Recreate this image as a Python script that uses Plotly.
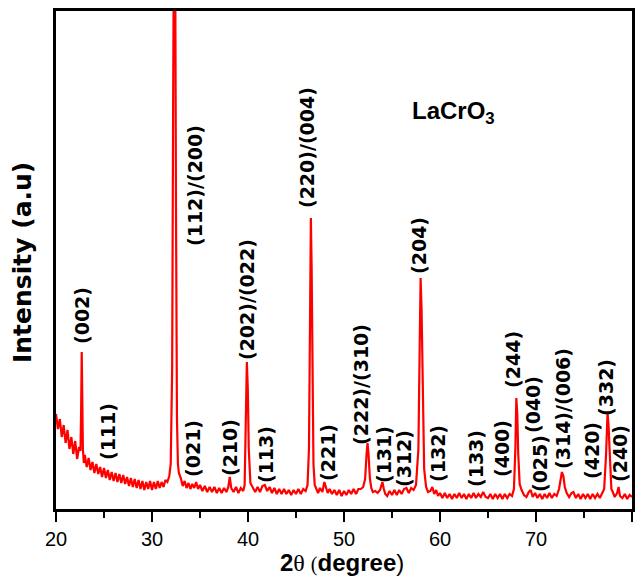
import plotly.graph_objects as go

# ---- data (2theta in degrees, intensity in a.u.) ----
bg_theta = [20.0, 20.2, 20.4, 20.6, 20.8, 21.0, 21.2, 21.4, 21.6, 21.8, 22.0, 22.2, 22.4,
            23.0, 23.2, 23.4, 23.6, 23.8, 24.0, 24.2, 24.4, 24.6, 24.8, 25.0, 25.2, 25.4,
            25.6, 25.8, 26.0, 26.2, 26.4, 26.6, 26.8, 27.0, 27.2, 27.4, 27.6, 27.8, 28.0,
            28.2, 28.4, 28.6, 28.8, 29.0, 29.2, 29.4, 29.6, 29.8, 30.0, 30.2, 30.4, 30.6,
            30.8, 31.0, 31.2, 31.4, 31.6,
            33.0, 33.2, 33.4, 33.6, 33.8, 34.0, 34.2, 34.4, 34.6, 34.8, 35.0, 35.25, 35.5,
            35.75, 36.0, 36.25, 36.5, 36.75, 37.0, 37.25, 37.5, 37.75,
            38.5, 38.75, 39.0, 39.25, 39.5,
            40.5, 40.75, 41.0, 41.25, 41.5, 41.75, 42.0, 42.25, 42.5, 42.75, 43.0, 43.25,
            43.5, 43.75, 44.0, 44.25, 44.5, 44.75, 45.0, 45.25, 45.5, 45.75, 46.0,
            47.1, 47.3, 47.5, 47.75,
            48.3, 48.5, 48.75, 49.0, 49.25, 49.5, 49.75, 50.0, 50.25, 50.5, 50.75, 51.0,
            51.25, 51.5, 51.75,
            53.0, 53.25, 53.5, 53.75,
            54.3, 54.5, 54.75, 55.0, 55.25, 55.5, 55.75, 56.0, 56.25, 56.5, 56.75, 57.0, 57.25,
            58.75, 59.0, 59.2, 59.4, 59.6, 59.8, 60.0, 60.25, 60.5, 60.75, 61.0, 61.25, 61.5,
            61.75, 62.0, 62.25, 62.5, 62.75, 63.0, 63.25, 63.5, 63.75, 64.0, 64.25, 64.5,
            64.75, 65.0, 65.25, 65.5, 65.75, 66.0, 66.25, 66.5, 66.75, 67.0, 67.25, 67.5,
            68.5, 68.75, 69.0, 69.25, 69.45, 69.65, 69.9, 70.15, 70.4, 70.65, 70.9, 71.15,
            71.4, 71.65, 71.9, 72.15,
            73.2, 73.45, 73.7, 73.9, 74.15, 74.4, 74.65, 74.9, 75.15, 75.4, 75.65, 75.9,
            76.15, 76.4, 76.65, 76.9,
            78.0, 78.2, 78.45,
            78.75, 79.0, 79.25, 79.5, 79.75, 80.0]
bg_int = [95, 80, 90, 72, 84, 66, 79, 60, 72, 55, 68, 50, 62,
          54, 42, 51, 39, 47, 36, 45, 35, 42, 32, 41, 31, 39,
          29, 37, 28, 36, 27, 35, 26, 34, 25, 32, 23, 31, 22,
          30, 21, 29, 20, 28, 19, 27, 20, 28, 19, 27, 20, 28,
          21, 27, 22, 29, 27,
          31, 23, 28, 21, 26, 20, 25, 21, 27, 20, 24, 18, 23,
          17, 22, 17, 22, 16, 21, 16, 21, 17,
          17, 22, 16, 21, 18,
          22, 17, 22, 17, 23, 24, 18, 22, 16, 21, 15, 20,
          15, 20, 15, 19, 14, 19, 15, 20, 15, 20, 18,
          20, 16, 21, 17,
          16, 20, 15, 19, 14, 19, 13, 18, 14, 19, 15, 20,
          15, 20, 20,
          17, 18, 16, 19,
          15, 13, 18, 14, 19, 14, 19, 15, 20, 21, 16, 21, 19,
          17, 18, 22, 15, 19, 13, 16, 11, 16, 11, 15, 10, 15,
          11, 16, 11, 15, 10, 15, 11, 16, 11, 15, 12, 17,
          12, 11, 15, 10, 15, 11, 15, 10, 15, 11, 15, 13,
          19, 14, 12, 17, 19, 12, 16, 11, 15, 10, 15, 11,
          16, 11, 15, 13,
          16, 12, 16, 17, 11, 15, 10, 15, 11, 15, 10, 15,
          11, 15, 11, 16,
          17, 12, 16,
          13, 11, 15, 10, 14, 12]

peak_theta = [22.55, 22.62, 22.68, 22.74, 22.8, 22.9,
              31.8, 31.95, 32.1, 32.2, 32.3, 32.4, 32.5, 32.6, 32.7, 32.8,
              37.95, 38.1, 38.25,
              39.65, 39.78, 39.88, 39.98, 40.08, 40.25,
              46.2, 46.35, 46.45, 46.55, 46.63, 46.72, 46.82, 46.95,
              47.95, 48.1,
              52.0, 52.2, 52.35, 52.45, 52.55, 52.7, 52.85,
              53.9, 54.0, 54.15,
              57.5, 57.75, 57.88, 57.98, 58.08, 58.2, 58.35, 58.55,
              67.7, 67.85, 67.95, 68.05, 68.15, 68.3,
              72.4, 72.55, 72.7, 72.85, 73.0,
              77.1, 77.3, 77.45, 77.55, 77.7, 77.85,
              78.6]
peak_int = [58, 100, 157, 110, 60, 46,
            33, 45, 140, 400, 620, 600, 300, 90, 45, 36,
            22, 32, 21,
            24, 80, 147, 120, 60, 26,
            24, 60, 200, 291, 240, 120, 45, 24,
            27, 22,
            22, 30, 55, 66, 56, 30, 21,
            25, 27, 20,
            24, 60, 160, 231, 200, 100, 40, 22,
            20, 60, 111, 95, 55, 25,
            20, 30, 37, 33, 22,
            20, 55, 96, 85, 45, 20,
            22]

hkl_labels = ["(002)", "(111)", "(112)/(200)", "(021)", "(210)", "(202)/(022)", "(113)",
              "(220)/(004)", "(221)", "(222)/(310)", "(131)", "(312)", "(204)", "(132)",
              "(133)", "(400)", "(244)", "(040)", "(025)", "(314)/(006)", "(420)", "(332)",
              "(240)"]
# label anchor positions (layout, in data coordinates)
label_theta = [22.71, 25.42, 34.48, 34.27, 38.13, 39.9, 41.88,
               46.15, 48.33, 51.77, 54.17, 56.25, 57.81, 59.79,
               63.75, 66.46, 67.6, 69.69, 70.42, 72.81, 75.83, 77.29,
               78.75]
label_y = [193, 77, 323, 61, 61, 209, 54,
           361, 57, 125, 54, 50, 264, 56,
           50, 60, 150, 104, 45, 101, 59, 122,
           55]

x_tick_vals = [20, 30, 40, 50, 60, 70, 80]

# ---- build ----
pts = sorted(zip(bg_theta + peak_theta, bg_int + peak_int))
xs = [p[0] for p in pts]
ys = [p[1] for p in pts]

fig = go.Figure()
fig.add_trace(go.Scatter(x=xs, y=ys, mode="lines",
                         line=dict(color="#ff0000", width=2.2), showlegend=False))

for t, lx, ly in zip(hkl_labels, label_theta, label_y):
    fig.add_annotation(x=lx, y=ly, xref="x", yref="y", text="<b>" + t + "</b>",
                       textangle=-90, showarrow=False, xanchor="center", yanchor="middle",
                       font=dict(family="DejaVu Sans", size=19, color="black"))

fig.add_annotation(x=0.6146, y=0.797, xref="paper", yref="paper",
                   text="<b>LaCrO<sub>3</sub></b>", showarrow=False,
                   xanchor="left", yanchor="middle",
                   font=dict(family="Liberation Sans", size=24, color="black"))

fig.add_annotation(x=0.4965, y=-0.108, xref="paper", yref="paper",
                   text="<b>2</b><span style='font-family:Liberation Serif'>θ </span>"
                        "<span style='font-family:Liberation Serif;font-size:20px'>(</span>"
                        "<b>degree</b>)",
                   showarrow=False, xanchor="center", yanchor="middle",
                   font=dict(family="Liberation Sans", size=24, color="black"))

fig.add_annotation(x=-0.0573, y=0.496, xref="paper", yref="paper",
                   text="<b>Intensity (a.u)</b>", textangle=-90, showarrow=False,
                   xanchor="center", yanchor="middle",
                   font=dict(family="DejaVu Sans", size=25, color="black"))

fig.update_xaxes(range=[20, 80], tickvals=x_tick_vals, ticks="outside", ticklen=10,
                 tickwidth=2, tickcolor="black", showline=True, linecolor="black",
                 linewidth=3, mirror=True, showgrid=False, zeroline=False,
                 automargin=False,
                 tickfont=dict(family="Liberation Sans", size=20, color="black"),
                 minor=dict(dtick=5, ticks="outside", ticklen=6, tickwidth=2,
                            tickcolor="black", showgrid=False))
fig.update_yaxes(range=[0, 498], showticklabels=False, ticks="", showline=True,
                 linecolor="black", linewidth=3, mirror=True, showgrid=False,
                 zeroline=False, automargin=False)

fig.update_layout(width=643, height=581, margin=dict(l=56, r=11, t=11, b=72),
                  plot_bgcolor="white", paper_bgcolor="white")

fig.write_html("out.html", config={"displayModeBar": False},
               post_script="document.body.style.margin='0px';"
                           "document.body.style.overflow='hidden';")
